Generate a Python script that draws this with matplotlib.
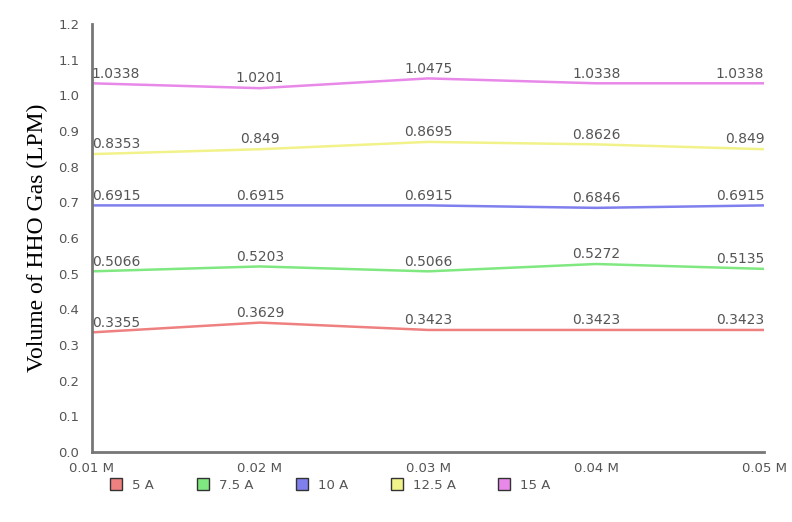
import matplotlib.pyplot as plt
from matplotlib.lines import Line2D

# electrolyte concentration on x, one series per current
concentrations = ["0.01 M", "0.02 M", "0.03 M", "0.04 M", "0.05 M"]
series_names = ["5 A", "7.5 A", "10 A", "12.5 A", "15 A"]
vol_5a = [0.3355, 0.3629, 0.3423, 0.3423, 0.3423]
vol_7_5a = [0.5066, 0.5203, 0.5066, 0.5272, 0.5135]
vol_10a = [0.6915, 0.6915, 0.6915, 0.6846, 0.6915]
vol_12_5a = [0.8353, 0.849, 0.8695, 0.8626, 0.849]
vol_15a = [1.0338, 1.0201, 1.0475, 1.0338, 1.0338]

colors = ["#ee8080", "#80e880", "#7f7fee", "#f2f28a", "#e888e8"]
all_series = [vol_5a, vol_7_5a, vol_10a, vol_12_5a, vol_15a]

fig = plt.figure(figsize=(7.92, 5.22), dpi=100)
ax = fig.add_axes([0.116, 0.134, 0.849, 0.820])

x = list(range(len(concentrations)))
for vals, col in zip(all_series, colors):
    ax.plot(x, vals, color=col, linewidth=1.8, solid_capstyle="round")
    for i, v in enumerate(vals):
        if i == 0:
            ha = "left"
        elif i == len(vals) - 1:
            ha = "right"
        else:
            ha = "center"
        ax.annotate(f"{v:g}", (i, v), xytext=(0, 2), textcoords="offset points",
                    ha=ha, va="bottom", fontsize=10, color="#555555")

ax.set_xlim(0, 4)
ax.set_ylim(0, 1.2)
ax.set_xticks(x)
ax.set_xticklabels(concentrations)
ax.set_yticks([i / 10 for i in range(13)])
ax.set_yticklabels([f"{i / 10:.1f}" for i in range(13)])
ax.tick_params(length=0, labelsize=9.5, labelcolor="#555555")
ax.tick_params(axis="y", pad=9)
ax.tick_params(axis="x", pad=7)

for side in ["top", "right"]:
    ax.spines[side].set_visible(False)
for side in ["left", "bottom"]:
    ax.spines[side].set_color("#777777")
    ax.spines[side].set_linewidth(2)

ax.set_ylabel("Volume of HHO Gas (LPM)", family="Liberation Serif", fontsize=17, labelpad=7)

handles = [Line2D([], [], marker="s", linestyle="", markersize=8, markerfacecolor=c,
                  markeredgecolor="#333333", markeredgewidth=1) for c in colors]
fig.legend(handles, series_names, loc="center left", bbox_to_anchor=(0.115, 0.07), ncol=5,
           frameon=False, fontsize=9.5, handletextpad=0.2, columnspacing=2.7,
           labelcolor="#555555")

fig.savefig("out.png", dpi=100)
